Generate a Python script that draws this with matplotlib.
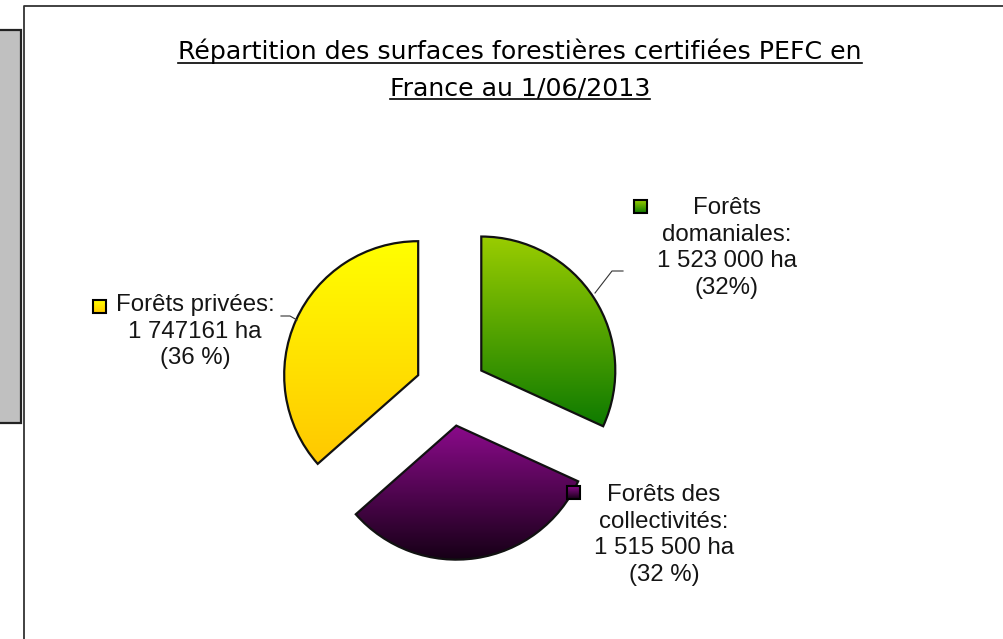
import numpy as np
import matplotlib
matplotlib.use("Agg")
import matplotlib.pyplot as plt
from matplotlib.colors import LinearSegmentedColormap
from matplotlib.patches import Rectangle

# données (ordre : sens horaire depuis midi)
categories = ["Forêts domaniales", "Forêts des collectivités", "Forêts privées"]
surfaces_ha = [1523000, 1515500, 1747161]
labels = [
    "Forêts\ndomaniales:\n1 523 000 ha\n(32%)",
    "Forêts des\ncollectivités:\n1 515 500 ha\n(32 %)",
    "Forêts privées:\n1 747161 ha\n(36 %)",
]
# dégradés (haut, bas)
grad_colors = [("#9acd00", "#0e7a00"), ("#8a0a8a", "#160016"), ("#ffff00", "#ffc800")]
title_lines = ["Répartition des surfaces forestières certifiées PEFC en",
               "France au 1/06/2013"]

W, H = 1004, 639
fig = plt.figure(figsize=(W / 100, H / 100), dpi=100)
ax = fig.add_axes([0, 0, 1, 1])


def py(y):
    # coordonnée pixel (origine en haut) -> coordonnée axe
    return H - y


def gradient_fill(patch, top, bottom, z=2):
    bb = patch.get_path().get_extents(patch.get_patch_transform())
    cmap = LinearSegmentedColormap.from_list("g", [bottom, top])
    grad = np.linspace(0, 1, 256).reshape(-1, 1)
    im = ax.imshow(grad, extent=[bb.x0, bb.x1, bb.y0, bb.y1], origin="lower",
                   cmap=cmap, aspect="auto", zorder=z, interpolation="bilinear")
    im.set_clip_path(patch)


wedges, _ = ax.pie(surfaces_ha, startangle=90, counterclock=False,
                   center=(451, py(390)), radius=134, explode=[36, 36, 36],
                   wedgeprops=dict(edgecolor="#111111", linewidth=1.6))
for w, (top, bot) in zip(wedges, grad_colors):
    w.set_facecolor("none")
    w.set_zorder(3)
    gradient_fill(w, top, bot)

# étiquettes
font = dict(family="Liberation Sans", fontsize=17.3, color="#151515")
ax.text(727, py(197), labels[0], ha="center", va="top", linespacing=1.27, zorder=5, **font)
ax.text(664, py(484), labels[1], ha="center", va="top", linespacing=1.27, zorder=5, **font)
ax.text(195, py(294), labels[2], ha="center", va="top", linespacing=1.27, zorder=5, **font)

# petits carrés de légende
for (x0, y0), (top, bot) in zip([(634, 213), (567, 499), (93, 313)], grad_colors):
    sq = Rectangle((x0, py(y0)), 13, 13, facecolor="none", edgecolor="black",
                   linewidth=1.5, zorder=6)
    ax.add_patch(sq)
    gradient_fill(sq, top, bot, z=5)

# lignes de rappel
ax.plot([595, 612, 623], [py(293), py(271), py(271)], color="#333333", lw=0.8, zorder=4)
ax.plot([281, 290, 297], [py(316), py(316), py(320)], color="#333333", lw=0.8, zorder=4)

# cadre du graphique et panneau gris à gauche
ax.plot([24, 24, 1003], [0, py(6), py(6)], color="#333333", lw=1.3, zorder=1)
ax.add_patch(Rectangle((-2, py(423)), 23, 393, facecolor="#c0c0c0",
                       edgecolor="#222222", linewidth=1.6, zorder=1))

ax.set_xlim(0, W)
ax.set_ylim(0, H)
ax.set_aspect("auto")
ax.axis("off")

# titre souligné
fig.canvas.draw()
renderer = fig.canvas.get_renderer()
for line, base in zip(title_lines, [59, 95]):
    t = ax.text(520, py(base), line, ha="center", va="baseline",
                family="DejaVu Sans", fontsize=18.2, color="black")
    bb = t.get_window_extent(renderer)
    ax.plot([bb.x0, bb.x1], [py(base + 4)] * 2, color="black", lw=1.2)

ax.set_xlim(0, W)
ax.set_ylim(0, H)
fig.savefig("out.png", dpi=100, facecolor="white")
